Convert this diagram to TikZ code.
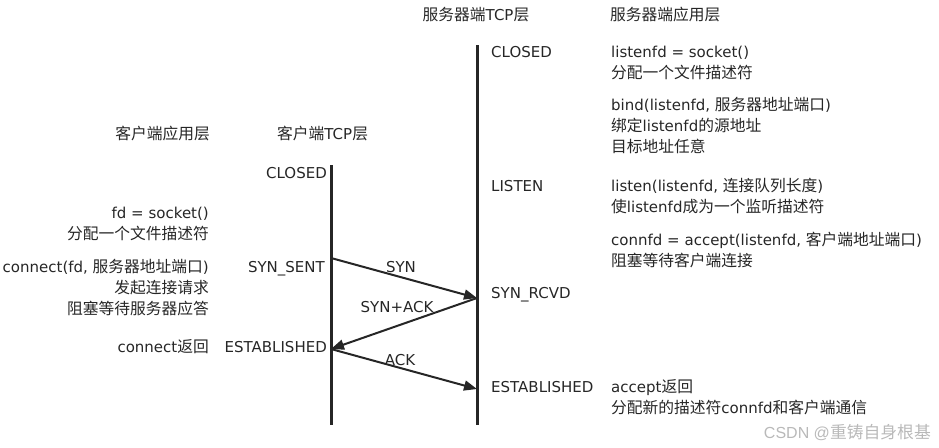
\documentclass[tikz,border=0pt]{standalone}
\usepackage{fontspec}
\setmainfont{DejaVu Sans}
\newfontfamily\cjk{Noto Sans CJK SC}[Scale=1.05]
\newfontfamily\wmfont{Liberation Sans}
\newcommand\zh[1]{{\cjk #1}}
\usetikzlibrary{arrows.meta}
\definecolor{wmgray}{RGB}{185,185,185}
\begin{document}
\begin{tikzpicture}[x=1pt,y=-1pt,
  txt/.style={inner sep=0pt, font=\fontsize{15pt}{17pt}\selectfont, text=black!85},
  lw/.style={txt, anchor=base west},
  le/.style={txt, anchor=base east},
  lc/.style={txt, anchor=base},
  life/.style={line width=3pt, black!85},
  msg/.style={line width=2pt, black!85, -{Triangle[length=13pt,width=10pt]}},
]
\useasboundingbox (0,0) rectangle (939,447);

% lifelines
\coordinate (c0) at (331,165);
\coordinate (c1) at (331,425);
\coordinate (s0) at (477,45);
\coordinate (s1) at (477,425);
\draw[life] (c0) -- (c1);
\draw[life] (s0) -- (s1);

% message points
\coordinate (cSyn) at (331,258);
\coordinate (sSyn) at (477,298);
\coordinate (cEst) at (331,349);
\coordinate (sEst) at (477,389);
\draw[msg] (cSyn) -- (sSyn);
\draw[msg] (sSyn) -- (cEst);
\draw[msg] (cEst) -- (sEst);
\node[lc] (lsyn) at (401,272) {SYN};
\node[lc] (lsynack) at (397,312) {SYN+ACK};
\node[lc] (lack) at (400,365) {ACK};

% headers
\node[lc] (hsrvtcp) at (476,20) {\zh{服务器端}TCP\zh{层}};
\node[lw] (hsrvapp) at (610,20) {\zh{服务器端应用层}};
\node[le] (hcliapp) at (210,139) {\zh{客户端应用层}};
\node[lw] (hclitcp) at (277,139) {\zh{客户端}TCP\zh{层}};

% client side
\node[le] (cclosed) at (327,178) {CLOSED};
\node[le] (cfd) at (209,218) {fd = socket()};
\node[le] (cfd2) at (209,239) {\zh{分配一个文件描述符}};
\node[le] (cconn) at (209,272) {connect(fd, \zh{服务器地址端口})};
\node[le] (cconn2) at (209,293) {\zh{发起连接请求}};
\node[le] (cconn3) at (209,314) {\zh{阻塞等待服务器应答}};
\node[le] (csent) at (325,272) {SYN\_SENT};
\node[le] (cret) at (209,352) {connect\zh{返回}};
\node[le] (cest) at (327,352) {ESTABLISHED};

% server side
\node[lw] (sclosed) at (491,57) {CLOSED};
\node[lw] (ssock) at (611,57) {listenfd = socket()};
\node[lw] (ssock2) at (611,78) {\zh{分配一个文件描述符}};
\node[lw] (sbind) at (611,110) {bind(listenfd, \zh{服务器地址端口})};
\node[lw] (sbind2) at (611,131) {\zh{绑定}listenfd\zh{的源地址}};
\node[lw] (sbind3) at (611,152) {\zh{目标地址任意}};
\node[lw] (slisten) at (491,191) {LISTEN};
\node[lw] (slst) at (611,191) {listen(listenfd, \zh{连接队列长度})};
\node[lw] (slst2) at (611,212) {\zh{使}listenfd\zh{成为一个监听描述符}};
\node[lw] (sacc) at (611,245) {connfd = accept(listenfd, \zh{客户端地址端口})};
\node[lw] (sacc2) at (611,266) {\zh{阻塞等待客户端连接}};
\node[lw] (srcvd) at (491,298) {SYN\_RCVD};
\node[lw] (sest) at (491,392) {ESTABLISHED};
\node[lw] (sret) at (611,392) {accept\zh{返回}};
\node[lw] (sret2) at (611,413) {\zh{分配新的描述符}connfd\zh{和客户端通信}};

% watermark
\node[anchor=base east, inner sep=0pt, text=wmgray, font=\fontsize{16pt}{18pt}\selectfont] (wm) at (931,438) {\wmfont CSDN @\zh{重铸自身根基}};
\end{tikzpicture}
\end{document}
